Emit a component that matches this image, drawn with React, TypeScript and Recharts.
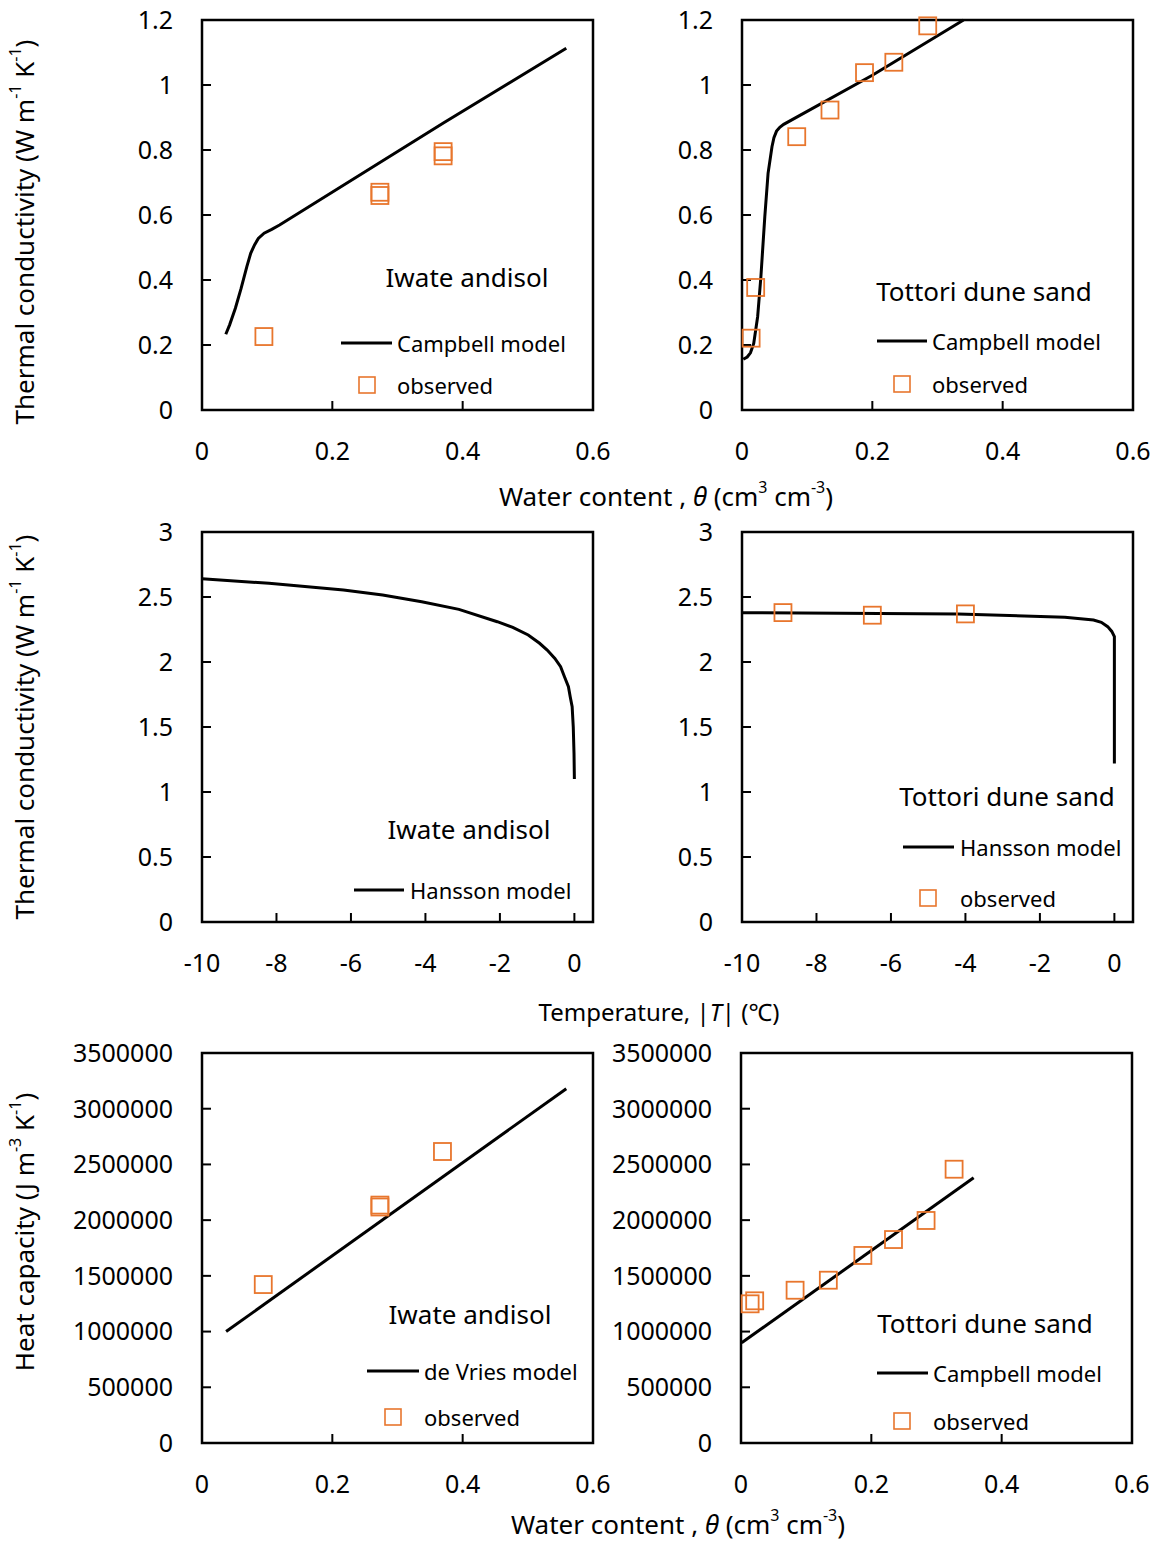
import { Legend, ReferenceArea, Scatter, ScatterChart, XAxis, YAxis } from "recharts";

// Colours / fonts used across all six panels
const ORANGE = "#E8762D";
const FONT = "'Noto Sans', 'Open Sans', sans-serif";

// ---- tick values ----
const thetaTicks = [0, 0.2, 0.4, 0.6];
const tempTicks = [-10, -8, -6, -4, -2, 0];
const kTicksTheta = [0, 0.2, 0.4, 0.6, 0.8, 1, 1.2];
const kTicksTemp = [0, 0.5, 1, 1.5, 2, 2.5, 3];
const cTicks = [0, 500000, 1000000, 1500000, 2000000, 2500000, 3000000, 3500000];

// ---- thermal conductivity vs water content ----
const iwateKModelTheta = [0.0365, 0.0424, 0.0512, 0.06, 0.0688, 0.0747, 0.0806, 0.0864, 0.0953, 0.107, 0.119, 0.371, 0.559];
const iwateKModel = [0.233, 0.262, 0.313, 0.374, 0.441, 0.482, 0.508, 0.528, 0.544, 0.556, 0.569, 0.884, 1.113];
const iwateKObsTheta = [0.095, 0.273, 0.273, 0.37, 0.37];
const iwateKObs = [0.226, 0.66, 0.67, 0.782, 0.795];

const tottoriKModelTheta = [0.002, 0.008, 0.013, 0.018, 0.024, 0.029, 0.035, 0.04, 0.046, 0.049, 0.053, 0.058, 0.064, 0.2, 0.34];
const tottoriKModel = [0.156, 0.163, 0.176, 0.205, 0.287, 0.41, 0.595, 0.728, 0.81, 0.838, 0.858, 0.87, 0.879, 1.03, 1.2];
const tottoriKObsTheta = [0.014, 0.021, 0.084, 0.135, 0.188, 0.233, 0.285];
const tottoriKObs = [0.221, 0.377, 0.841, 0.923, 1.038, 1.07, 1.182];

// ---- thermal conductivity vs temperature ----
const iwateTempT = [-10, -8.2, -6.2, -5.15, -4.1, -3.1, -2.07, -1.654, -1.24, -0.935, -0.73, -0.524, -0.37, -0.266, -0.16, -0.112, -0.06, -0.03, -0.01, 0];
const iwateTempK = [2.64, 2.605, 2.554, 2.515, 2.464, 2.405, 2.31, 2.267, 2.208, 2.144, 2.092, 2.028, 1.964, 1.887, 1.81, 1.733, 1.656, 1.5, 1.3, 1.1];

const tottoriTempT = [-10, -4.2, -1.33, -0.56, -0.35, -0.18, -0.07, 0, 0];
const tottoriTempK = [2.379, 2.369, 2.344, 2.323, 2.305, 2.272, 2.235, 2.195, 1.22];
const tottoriTempObsT = [-8.9, -6.5, -4.0];
const tottoriTempObsK = [2.38, 2.36, 2.37];

// ---- heat capacity vs water content ----
const iwateCModelTheta = [0.037, 0.559];
const iwateCModel = [1000000, 3180000];
const iwateCObsTheta = [0.094, 0.273, 0.273, 0.369];
const iwateCObs = [1422000, 2118000, 2135000, 2616000];

const tottoriCModelTheta = [0.001, 0.357];
const tottoriCModel = [899000, 2380000];
const tottoriCObsTheta = [0.014, 0.021, 0.083, 0.134, 0.187, 0.234, 0.284, 0.327];
const tottoriCObs = [1249000, 1276000, 1371000, 1461000, 1683000, 1826000, 1997000, 2457000];

type Pt = { x: number; y: number };
const zip = (xs: number[], ys: number[]): Pt[] => xs.map((x, i) => ({ x, y: ys[i] }));

// plot area size (px) shared by every panel
const PW = 391;
const PH = 390;
const YW = 150; // y axis column
const XH = 70; // x axis row
const MT = 20;
const MR = 28;

type LegendPos = {
  soil: [number, number];
  line: [number, number, number];
  text: number;
  square?: [number, number];
};

type PanelProps = {
  left: number;
  top: number;
  xDomain: [number, number];
  xTicks: number[];
  yDomain: [number, number];
  yTicks: number[];
  model: Pt[];
  obs?: Pt[];
  soil: string;
  modelName: string;
  pos: LegendPos;
};

function Square(props: any) {
  const { cx, cy } = props;
  if (cx == null || cy == null) return <g />;
  return <rect x={cx - 8.5} y={cy - 8.5} width={17} height={17} fill="none" stroke={ORANGE} strokeWidth={1.8} />;
}

function LegendBox({ soil, modelName, pos, hasObs }: { soil: string; modelName: string; pos: LegendPos; hasObs: boolean }) {
  return (
    <svg width={PW} height={PH} style={{ overflow: "visible", fontFamily: FONT }}>
      <text x={pos.soil[0]} y={pos.soil[1]} textAnchor="middle" dominantBaseline="central" fontSize={26} fill="#000">
        {soil}
      </text>
      <line x1={pos.line[0]} x2={pos.line[1]} y1={pos.line[2]} y2={pos.line[2]} stroke="#000" strokeWidth={3} />
      <text x={pos.text} y={pos.line[2]} dominantBaseline="central" fontSize={22} fill="#000">
        {modelName}
      </text>
      {hasObs && pos.square && (
        <>
          <rect x={pos.square[0] - 8} y={pos.square[1] - 8} width={16} height={16} fill="none" stroke={ORANGE} strokeWidth={1.6} />
          <text x={pos.text} y={pos.square[1]} dominantBaseline="central" fontSize={22} fill="#000">
            observed
          </text>
        </>
      )}
    </svg>
  );
}

function Panel({ left, top, xDomain, xTicks, yDomain, yTicks, model, obs, soil, modelName, pos }: PanelProps) {
  const W = YW + PW + MR;
  const H = MT + PH + XH;
  const tick = { fontSize: 25, fill: "#000", fontFamily: FONT };
  return (
    <div style={{ position: "absolute", left: left - YW, top: top - MT }}>
      <ScatterChart width={W} height={H} margin={{ top: MT, right: MR, bottom: 0, left: 0 }}>
        <XAxis
          type="number"
          dataKey="x"
          domain={xDomain}
          ticks={xTicks}
          interval={0}
          height={XH}
          axisLine={false}
          tickSize={-9}
          tickMargin={41}
          tickLine={{ stroke: "#000", strokeWidth: 2 }}
          tick={tick}
        />
        <YAxis
          type="number"
          dataKey="y"
          domain={yDomain}
          ticks={yTicks}
          interval={0}
          width={YW}
          axisLine={false}
          tickSize={-9}
          tickMargin={38}
          tickLine={{ stroke: "#000", strokeWidth: 2 }}
          tick={tick}
        />
        <ReferenceArea
          x1={xDomain[0]}
          x2={xDomain[1]}
          y1={yDomain[0]}
          y2={yDomain[1]}
          fill="none"
          stroke="#000"
          strokeWidth={2.5}
        />
        <Scatter
          name={modelName}
          data={model}
          line={{ stroke: "#000", strokeWidth: 3 }}
          shape={() => <g />}
          isAnimationActive={false}
        />
        {obs && <Scatter name="observed" data={obs} shape={Square} isAnimationActive={false} />}
        <Legend
          layout="horizontal"
          verticalAlign="middle"
          align="center"
          wrapperStyle={{ left: YW, top: MT, width: PW, height: PH, pointerEvents: "none" }}
          content={() => <LegendBox soil={soil} modelName={modelName} pos={pos} hasObs={!!obs} />}
        />
      </ScatterChart>
    </div>
  );
}

const SUP = { dy: -9, fontSize: 16 };
const DOWN = { dy: 9 };

function KTitle({ y }: { y: number }) {
  return (
    <text transform={`translate(24, ${y}) rotate(-90)`} textAnchor="middle" dominantBaseline="central" fontSize={26} fill="#000">
      Thermal conductivity (W m<tspan {...SUP}>-1</tspan>
      <tspan {...DOWN}> K</tspan>
      <tspan {...SUP}>-1</tspan>
      <tspan {...DOWN}>)</tspan>
    </text>
  );
}

function ThetaTitle({ x, y }: { x: number; y: number }) {
  return (
    <text x={x} y={y} textAnchor="middle" dominantBaseline="central" fontSize={26} fill="#000">
      Water content , <tspan fontStyle="italic">θ</tspan> (cm<tspan {...SUP}>3</tspan>
      <tspan {...DOWN}> cm</tspan>
      <tspan {...SUP}>-3</tspan>
      <tspan {...DOWN}>)</tspan>
    </text>
  );
}

export default function App() {
  return (
    <div style={{ position: "absolute", left: 0, top: 0, width: 1161, height: 1542, background: "#fff", fontFamily: FONT }}>
      <svg width={1161} height={1542} style={{ position: "absolute", left: 0, top: 0, fontFamily: FONT, overflow: "visible" }}>
        <KTitle y={232} />
        <KTitle y={727} />
        <text transform="translate(24, 1232) rotate(-90)" textAnchor="middle" dominantBaseline="central" fontSize={26} fill="#000">
          Heat capacity (J m<tspan {...SUP}>-3</tspan>
          <tspan {...DOWN}> K</tspan>
          <tspan {...SUP}>-1</tspan>
          <tspan {...DOWN}>)</tspan>
        </text>
        <ThetaTitle x={666} y={496} />
        <text x={659} y={1011} textAnchor="middle" dominantBaseline="central" fontSize={24} fill="#000">
          Temperature, |<tspan fontStyle="italic">T</tspan>| (℃)
        </text>
        <ThetaTitle x={678} y={1524} />
      </svg>

      <Panel
        left={202}
        top={20}
        xDomain={[0, 0.6]}
        xTicks={thetaTicks}
        yDomain={[0, 1.2]}
        yTicks={kTicksTheta}
        model={zip(iwateKModelTheta, iwateKModel)}
        obs={zip(iwateKObsTheta, iwateKObs)}
        soil="Iwate andisol"
        modelName="Campbell model"
        pos={{ soil: [265, 257], line: [139, 190, 323], text: 195, square: [165, 365] }}
      />
      <Panel
        left={742}
        top={20}
        xDomain={[0, 0.6]}
        xTicks={thetaTicks}
        yDomain={[0, 1.2]}
        yTicks={kTicksTheta}
        model={zip(tottoriKModelTheta, tottoriKModel)}
        obs={zip(tottoriKObsTheta, tottoriKObs)}
        soil="Tottori dune sand"
        modelName="Campbell model"
        pos={{ soil: [242, 271], line: [135, 185, 321], text: 190, square: [160, 364] }}
      />
      <Panel
        left={202}
        top={532}
        xDomain={[-10, 0.5]}
        xTicks={tempTicks}
        yDomain={[0, 3]}
        yTicks={kTicksTemp}
        model={zip(iwateTempT, iwateTempK)}
        soil="Iwate andisol"
        modelName="Hansson model"
        pos={{ soil: [267, 297], line: [152, 202, 358], text: 208 }}
      />
      <Panel
        left={742}
        top={532}
        xDomain={[-10, 0.5]}
        xTicks={tempTicks}
        yDomain={[0, 3]}
        yTicks={kTicksTemp}
        model={zip(tottoriTempT, tottoriTempK)}
        obs={zip(tottoriTempObsT, tottoriTempObsK)}
        soil="Tottori dune sand"
        modelName="Hansson model"
        pos={{ soil: [265, 264], line: [161, 212, 315], text: 218, square: [186, 366] }}
      />
      <Panel
        left={202}
        top={1053}
        xDomain={[0, 0.6]}
        xTicks={thetaTicks}
        yDomain={[0, 3500000]}
        yTicks={cTicks}
        model={zip(iwateCModelTheta, iwateCModel)}
        obs={zip(iwateCObsTheta, iwateCObs)}
        soil="Iwate andisol"
        modelName="de Vries model"
        pos={{ soil: [268, 261], line: [165, 217, 318], text: 222, square: [191, 364] }}
      />
      <Panel
        left={741}
        top={1053}
        xDomain={[0, 0.6]}
        xTicks={thetaTicks}
        yDomain={[0, 3500000]}
        yTicks={cTicks}
        model={zip(tottoriCModelTheta, tottoriCModel)}
        obs={zip(tottoriCObsTheta, tottoriCObs)}
        soil="Tottori dune sand"
        modelName="Campbell model"
        pos={{ soil: [244, 270], line: [136, 187, 320], text: 192, square: [161, 368] }}
      />
    </div>
  );
}
